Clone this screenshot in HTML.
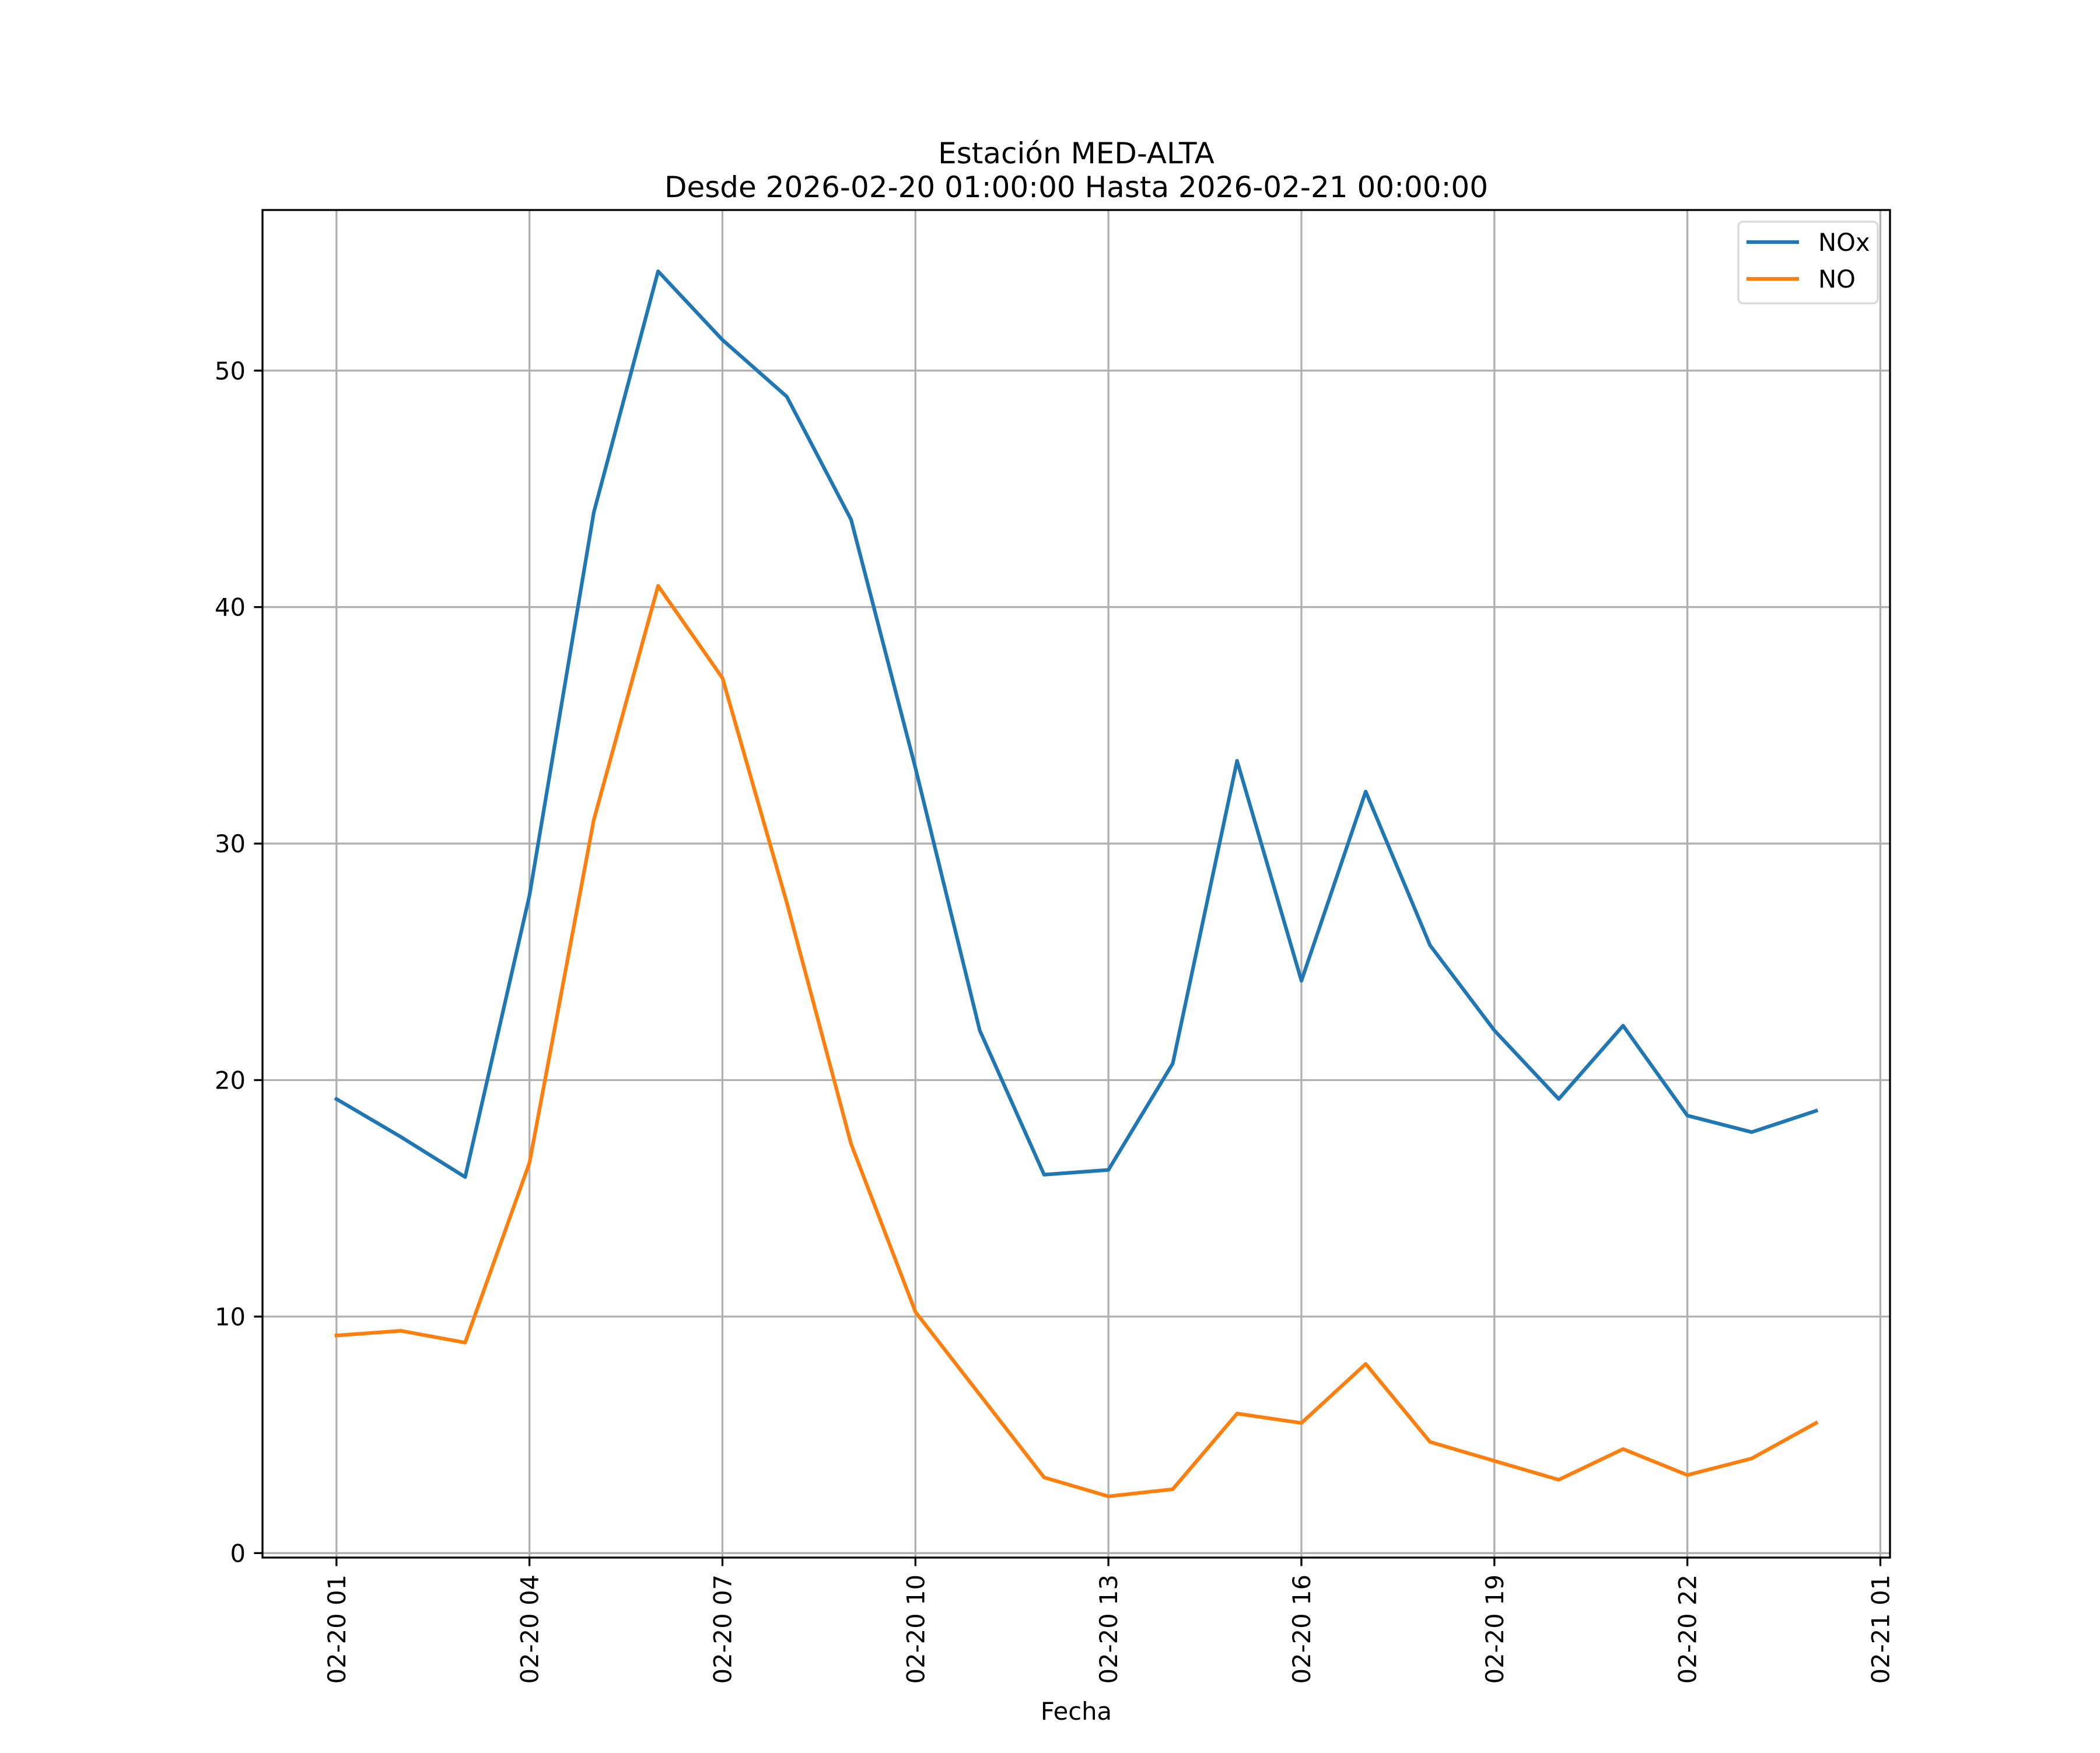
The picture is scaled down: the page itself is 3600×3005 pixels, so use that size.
<!DOCTYPE html>
<html><head><meta charset="utf-8"><style>
html,body{margin:0;padding:0;background:#fff}
svg text{font-family:"DejaVu Sans","Liberation Sans",sans-serif;fill:#000}
</style></head><body>
<svg id="chart" width="3600" height="3000" viewBox="0 0 3600 3000" xmlns="http://www.w3.org/2000/svg">
<rect width="3600" height="3000" fill="#fff"/>
<g id="grid"></g>
<g id="series"></g>
<g id="ticks"></g>
<rect x="450" y="360" width="2790" height="2310" fill="none" stroke="#000" stroke-width="3.3"/>
<text x="1845" y="280" font-size="50" text-anchor="middle">Estación MED-ALTA</text>
<text x="1845" y="338" font-size="50" text-anchor="middle">Desde 2026-02-20 01:00:00 Hasta 2026-02-21 00:00:00</text>
<text x="1845" y="2948" font-size="41.7" text-anchor="middle">Fecha</text>
<g>
<rect x="2980" y="380" width="239" height="140" rx="8" fill="#fff" fill-opacity="0.8" stroke="#d9d9d9" stroke-width="3.3"/>
<line x1="2994" y1="415" x2="3084" y2="415" stroke="#1f77b4" stroke-width="6.25"/>
<text x="3117" y="430" font-size="41.7">NOx</text>
<line x1="2994" y1="478" x2="3084" y2="478" stroke="#ff7f0e" stroke-width="6.25"/>
<text x="3117" y="493" font-size="41.7">NO</text>
</g>
</svg>
<script>
const hours = [1,2,3,4,5,6,7,8,9,10,11,12,13,14,15,16,17,18,19,20,21,22,23,24];
const noxValues = [19.2,17.6,15.9,27.8,44.0,54.2,51.3,48.9,43.7,33.2,22.1,16.0,16.2,20.7,33.5,24.2,32.2,25.7,22.1,19.2,22.3,18.5,17.8,18.7];
const noValues = [9.2,9.4,8.9,16.5,31.0,40.9,37.0,27.5,17.3,10.2,6.7,3.2,2.4,2.7,5.9,5.5,8.0,4.7,3.9,3.1,4.4,3.3,4.0,5.5];
const xTickHours = [1,4,7,10,13,16,19,22,25];
const xTickLabels = ["02-20 01","02-20 04","02-20 07","02-20 10","02-20 13","02-20 16","02-20 19","02-20 22","02-21 01"];
const yTicks = [0,10,20,30,40,50];

const L=450,R=3240,T=360,B=2670;
const hMin=Math.min(...hours),hMax=Math.max(...hours),hPad=(hMax-hMin)*0.05;
const x0=hMin-hPad,x1=hMax+hPad;
const all=noxValues.concat(noValues);
const vMin=Math.min(...all),vMax=Math.max(...all),vPad=(vMax-vMin)*0.05;
const y0=vMin-vPad,y1=vMax+vPad;
const xs=h=>L+(h-x0)/(x1-x0)*(R-L);
const ys=v=>B-(v-y0)/(y1-y0)*(B-T);
const NS="http://www.w3.org/2000/svg";
function mk(tag,attrs,parent){const e=document.createElementNS(NS,tag);for(const k in attrs)e.setAttribute(k,attrs[k]);parent.appendChild(e);return e;}
const grid=document.getElementById('grid'),ticks=document.getElementById('ticks'),series=document.getElementById('series');
xTickHours.forEach((h,i)=>{
  const x=xs(h);
  const g=mk('line',{x1:x,y1:T,x2:x,y2:B,stroke:'#b0b0b0','stroke-width':3.3},grid);
  
  
  const t=mk('line',{x1:x,y1:B,x2:x,y2:B+14.6,stroke:'#000','stroke-width':3.3},ticks);
  
  
  const lb=mk('text',{x:0,y:0,'font-size':41.7,'text-anchor':'end',transform:`translate(${x+15},${B+29}) rotate(-90)`},ticks);
  lb.textContent=xTickLabels[i];
  
  
});
yTicks.forEach(v=>{
  const y=ys(v);
  const g=mk('line',{x1:L,y1:y,x2:R,y2:y,stroke:'#b0b0b0','stroke-width':3.3},grid);
  
  
  const t=mk('line',{x1:L-14.6,y1:y,x2:L,y2:y,stroke:'#000','stroke-width':3.3},ticks);
  
  
  const lb=mk('text',{x:L-29,y:y+15,'font-size':41.7,'text-anchor':'end'},ticks);
  lb.textContent=String(v);
  
  
});
function line(vals,color,name){
  const pts=vals.map((v,i)=>xs(hours[i]).toFixed(1)+','+ys(v).toFixed(1)).join(' ');
  const p=mk('polyline',{points:pts,fill:'none',stroke:color,'stroke-width':6.25,'stroke-linejoin':'round','stroke-linecap':'square'},series);
  
  
}
line(noxValues,'#1f77b4','nox-line');
line(noValues,'#ff7f0e','no-line');
</script>
</body></html>
